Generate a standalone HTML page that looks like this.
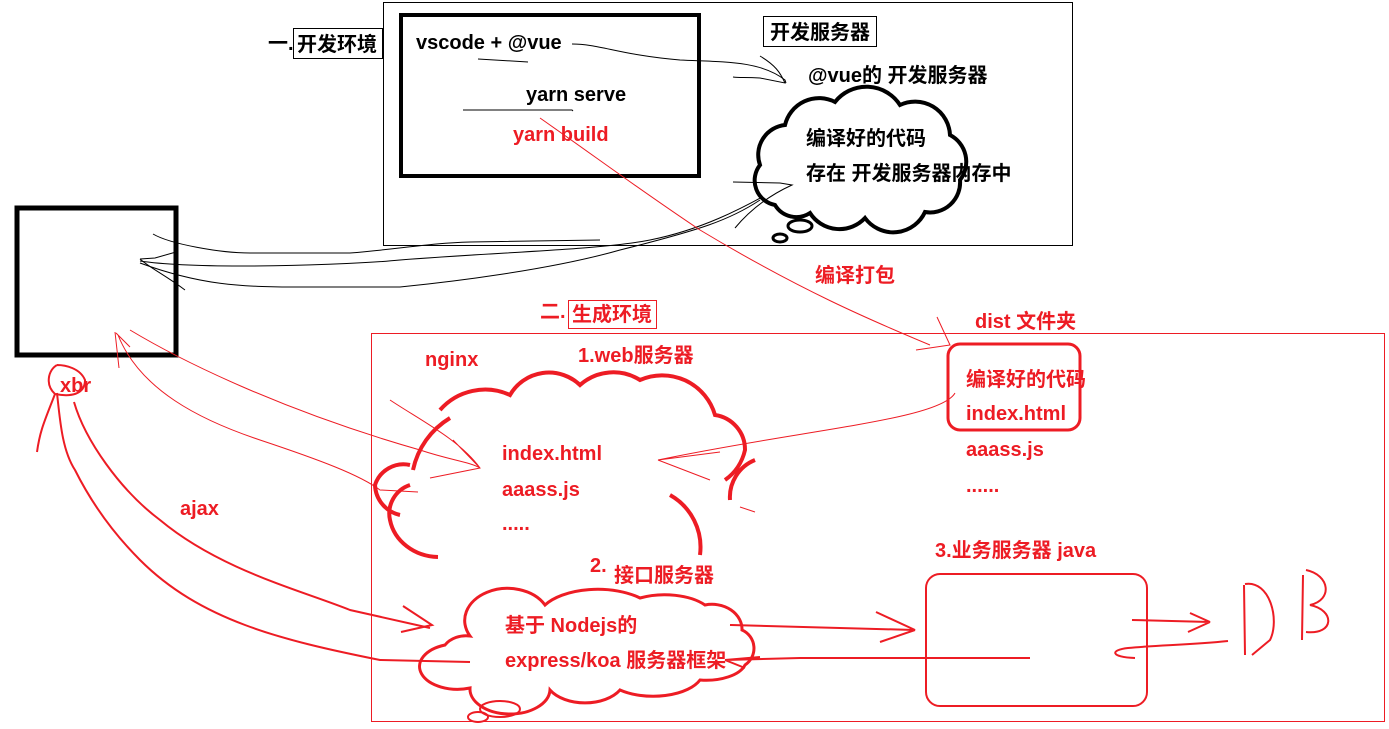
<!DOCTYPE html>
<html><head><meta charset="utf-8"><style>
html,body{margin:0;padding:0;background:#fff;}
svg{display:block}
text{font-family:"Liberation Sans","Noto Sans CJK SC",sans-serif;font-weight:bold;font-size:20px}
.r{fill:#ed1c24}
</style></head><body>
<svg width="1389" height="729" viewBox="0 0 1389 729" xmlns="http://www.w3.org/2000/svg">
<rect x="383.5" y="2.5" width="689" height="243" fill="none" stroke="#000" stroke-width="1"/>
<rect x="401" y="15" width="298" height="161" fill="none" stroke="#000" stroke-width="4"/>
<text x="268" y="50">一.</text>
<rect x="293.5" y="28.5" width="89" height="30" fill="#fff" stroke="#000" stroke-width="1"/>
<text x="297" y="51">开发环境</text>
<rect x="763.5" y="16.5" width="113" height="30" fill="#fff" stroke="#000" stroke-width="1"/>
<text x="770" y="39">开发服务器</text>
<text x="416" y="49">vscode + @vue</text>
<text x="526" y="101">yarn serve</text>
<text x="513" y="141" class="r">yarn build</text>
<text x="808" y="82">@vue的 开发服务器</text>
<g fill="none" stroke="#000" stroke-width="1">
<path d="M478 59 L528 62"/>
<path d="M463 110 L572 110 L573 111"/>
<path d="M572 44 C600 44 620 55 680 60 C720 62 760 60 785 80 L786 83"/>
<path d="M760 56 C775 65 780 72 785 83 L760 78 C745 77 740 78 733 77"/>
<path d="M153 234 C170 244 220 253 250 253 L350 253 C400 249 430 243 470 242 L600 240"/>
<path d="M140 259 L155 258 L176 252 M140 259 C150 268 165 275 185 290"/>
<path d="M140 263 C200 285 240 287 300 287 L400 287 C450 282 550 270 620 250 C700 230 730 220 760 200"/>
<path d="M140 261 C200 270 350 265 400 260 C500 252 600 250 650 240 C700 230 740 210 780 187"/>
</g>
<path d="M775 205 A25 25 0 0 1 760 165 A30 30 0 0 1 785 125 A35 35 0 0 1 835 102 A40 40 0 0 1 900 105 A35 35 0 0 1 950 135 A30 30 0 0 1 960 180 A30 30 0 0 1 925 212 A35 35 0 0 1 865 218 A35 35 0 0 1 810 213 A25 25 0 0 1 775 205 Z" fill="#fff" stroke="#000" stroke-width="4"/>
<ellipse cx="800" cy="226" rx="12" ry="6" fill="none" stroke="#000" stroke-width="3"/>
<ellipse cx="780" cy="238" rx="7" ry="4" fill="none" stroke="#000" stroke-width="3"/>
<text x="806" y="145">编译好的代码</text>
<text x="806" y="180">存在 开发服务器内存中</text>
<path d="M733 182 L780 183 L792 185 C770 195 750 210 735 228" fill="none" stroke="#000"/>
<rect x="17" y="208" width="159" height="147" fill="none" stroke="#000" stroke-width="5"/>
<rect x="371.5" y="333.5" width="1013" height="388" fill="none" stroke="#ed1c24" stroke-width="1"/>
<text x="540" y="318" class="r">二.</text>
<rect x="568.5" y="300.5" width="88" height="28" fill="#fff" stroke="#ed1c24" stroke-width="1"/>
<text x="572" y="321" class="r">生成环境</text>
<text x="425" y="366" class="r">nginx</text>
<text x="578" y="362" class="r">1.web服务器</text>
<text x="815" y="282" class="r">编译打包</text>
<text x="975" y="328" class="r">dist 文件夹</text>
<rect x="948" y="344" width="132" height="86" rx="12" fill="none" stroke="#ed1c24" stroke-width="3"/>
<text x="966" y="386" class="r">编译好的代码</text>
<text x="966" y="420" class="r">index.html</text>
<text x="966" y="456" class="r">aaass.js</text>
<text x="966" y="492" class="r">......</text>
<g fill="none" stroke="#ed1c24" stroke-width="1">
<path d="M540 118 C600 160 640 190 700 230 C800 290 870 320 930 345"/>
<path d="M937 317 L950 345 L916 350"/>
<path d="M955 393 C940 420 800 430 658 460 L720 452 M658 460 L710 480"/>
<path d="M390 400 C420 420 460 440 480 468 L430 478 M480 468 L453 440"/>
<path d="M130 330 C180 360 280 410 420 450 C450 460 470 462 480 468"/>
<path d="M115 332 L119 368 M116 333 L130 347 M118 335 C140 390 200 420 260 440 C320 460 360 475 380 490 L418 492"/>
<path d="M740 507 L755 512"/>
</g>
<path d="M438 557 A50 45 0 0 1 390 520 A30 30 0 0 1 410 485 M410 465 A30 30 0 0 0 375 485 A32 32 0 0 0 400 515 M413 470 A80 80 0 0 1 450 418 M440 410 A60 60 0 0 1 510 395 A45 45 0 0 1 580 385 A50 50 0 0 1 640 380 A55 55 0 0 1 715 415 A35 35 0 0 1 745 450 A50 50 0 0 1 725 480 M730 500 A40 40 0 0 1 755 460 M670 495 A60 60 0 0 1 700 555" fill="none" stroke="#ed1c24" stroke-width="4"/>
<text x="502" y="460" class="r">index.html</text>
<text x="502" y="496" class="r">aaass.js</text>
<text x="502" y="530" class="r">.....</text>
<text x="590" y="572" class="r">2.</text>
<text x="614" y="582" class="r">接口服务器</text>
<path d="M470 688 A25 15 0 0 1 445 645 A25 20 0 0 1 470 636 A40 30 0 0 1 545 605 A60 30 0 0 1 640 598 A50 25 0 0 1 705 605 A30 25 0 0 1 742 630 A20 20 0 0 1 745 665 A40 20 0 0 1 700 680 A50 25 0 0 1 620 690 A40 25 0 0 1 550 690 A40 25 0 0 1 470 688 Z" fill="#fff" stroke="#ed1c24" stroke-width="3"/>
<ellipse cx="500" cy="709" rx="20" ry="8" fill="none" stroke="#ed1c24" stroke-width="2"/>
<ellipse cx="478" cy="717" rx="10" ry="5" fill="none" stroke="#ed1c24" stroke-width="2"/>
<text x="505" y="632" class="r">基于 Nodejs的</text>
<text x="505" y="667" class="r">express/koa 服务器框架</text>
<text x="935" y="557" class="r">3.业务服务器 java</text>
<rect x="926" y="574" width="221" height="132" rx="14" fill="none" stroke="#ed1c24" stroke-width="2"/>
<text x="60" y="392" class="r">xbr</text>
<text x="180" y="515" class="r">ajax</text>
<g fill="none" stroke="#ed1c24" stroke-width="2">
<path d="M57 365 C48 370 45 385 55 394 C70 397 85 395 85 380 C80 368 65 365 57 365"/>
<path d="M55 394 C45 420 40 430 37 452"/>
<path d="M57 393 C60 420 62 450 75 470 C90 500 110 530 140 560 C200 620 280 640 380 660 L470 662"/>
<path d="M74 402 C85 440 120 490 160 520 C220 570 300 590 350 610 L430 628"/>
<path d="M403 606 L432 625 L401 632"/>
<path d="M730 625 C790 627 850 628 915 630 L876 612 M915 630 L880 642"/>
<path d="M1030 658 L800 658 L725 660 L760 657 M725 660 L745 668"/>
<path d="M1132 620 L1210 622 L1190 613 M1210 622 L1188 632"/>
<path d="M1228 641 C1190 645 1160 645 1128 648 C1110 650 1110 657 1135 658"/>
<path d="M1244 585 L1245 655 M1245 584 C1270 580 1280 620 1270 640 L1252 655"/>
<path d="M1303 575 L1302 640 M1306 570 C1330 575 1333 600 1310 605 C1335 610 1335 635 1306 632"/>
</g>
</svg>
</body></html>
